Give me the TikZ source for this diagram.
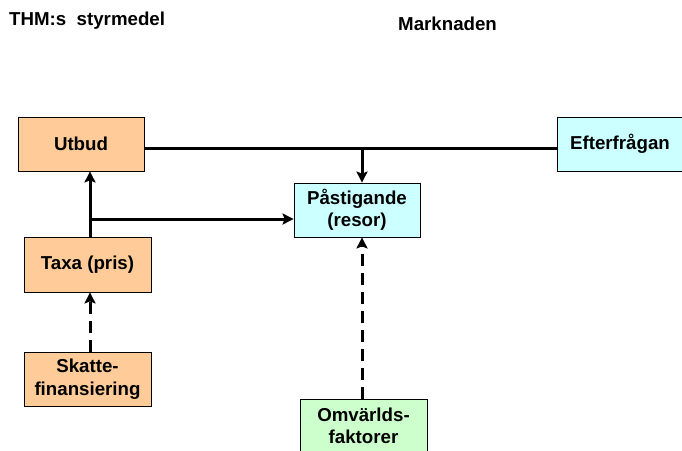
\documentclass[tikz,border=0pt]{standalone}
\usepackage{fontspec}
\setmainfont{Liberation Sans}
\usetikzlibrary{arrows.meta}

\definecolor{orangefill}{HTML}{FFCC99}
\definecolor{cyanfill}{HTML}{CCFFFF}
\definecolor{greenfill}{HTML}{CCFFCC}

\tikzset{
  box/.style={draw, line width=0.8pt, align=center, inner sep=0pt,
    minimum width=126pt, minimum height=54pt,
    font=\fontsize{18.7}{22.4}\selectfont\bfseries},
  link/.style={line width=3pt, -{Stealth[length=11pt,width=11pt,inset=2pt]}},
  flow/.style={line width=3pt},
  weak/.style={link, dash pattern=on 12pt off 7pt},
  heading/.style={anchor=base west, inner sep=0pt,
    font=\fontsize{18.7}{22.4}\selectfont\bfseries}
}

\begin{document}
\begin{tikzpicture}[x=1pt, y=-1pt]
  \useasboundingbox (0,0) rectangle (682,450);

  % Headings
  \node[heading] (thm) at (9,25) {THM:s\ \ styrmedel};
  \node[heading] (marknad) at (398,30) {Marknaden};

  % Boxes
  \node[box, fill=orangefill] (utbud) at (81,144) {Utbud};
  \node[box, fill=cyanfill] (efter) at (620,144) {Efterfrågan};
  \node[box, fill=cyanfill] (pas) at (357,210) {Påstigande\\(resor)};
  \node[box, fill=orangefill, minimum width=127pt, minimum height=55pt] (taxa) at (87.5,264.5) {Taxa (pris)};
  \node[box, fill=orangefill, minimum width=127pt] (skatt) at (87.5,379) {Skatte-\\finansiering};
  \node[box, fill=greenfill, minimum width=127pt] (omv) at (363.5,426) {Omvärlds-\\faktorer};

  % Junctions
  \coordinate (j) at (362,148);
  \coordinate (k) at (90,219);

  % Arrows
  \draw[flow] (utbud.east |- j) -- (efter.west |- j);
  \draw[link] (j) -- (pas.north -| j);
  \draw[link] (taxa.north -| k) -- (utbud.south -| k);
  \draw[link] (k) -- (pas.west |- k);
  \draw[weak] (skatt.north -| k) -- (taxa.south -| k);
  \draw[weak] (omv.north -| j) -- (pas.south -| j);
\end{tikzpicture}
\end{document}
